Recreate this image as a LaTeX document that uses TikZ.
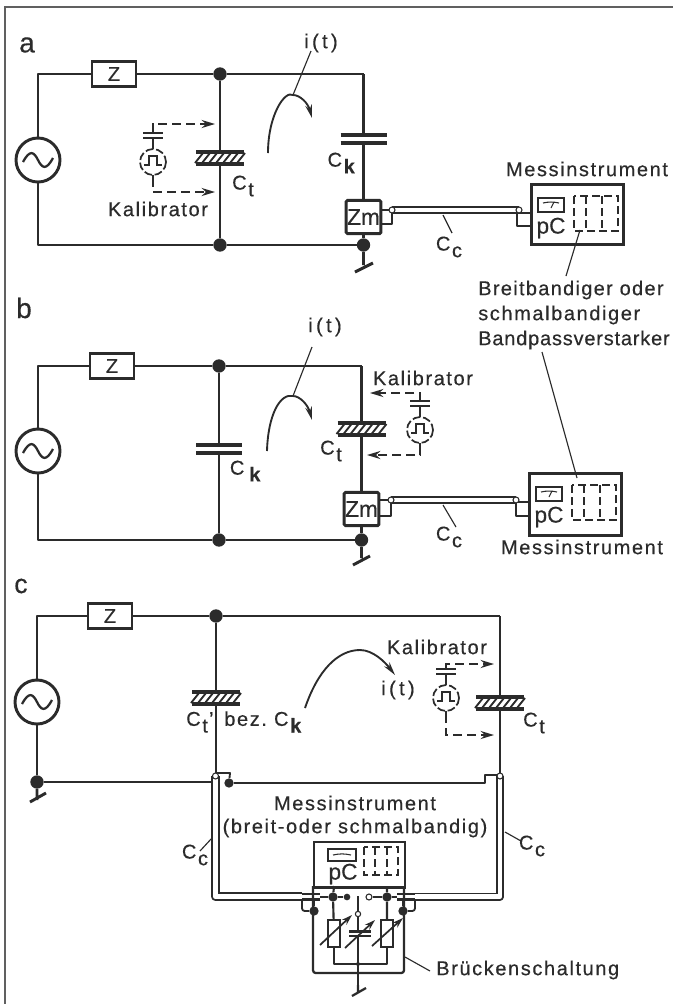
\documentclass[tikz,border=0pt]{standalone}
\usepackage{fontspec}
\setmainfont[LetterSpace=8,FakeBold=0.35]{Liberation Sans}
\usetikzlibrary{arrows.meta,calc}
\definecolor{ink}{HTML}{2B2B2B}
\newcommand{\Sb}[1]{\kern1.2pt\raisebox{-5pt}{#1}}
\tikzset{
 wire/.style={draw=ink,line width=2.2pt,line join=round},
 thinw/.style={draw=ink,line width=1.4pt,line join=round},
 lead/.style={draw=ink,line width=0.85pt},
 dashw/.style={draw=ink,line width=1.4pt,dash pattern=on 7pt off 3.5pt,-{Stealth[length=10pt,width=6pt]}},
 curr/.style={draw=ink,line width=1.4pt,-{Stealth[length=10pt,width=5pt]}},
 lab/.style={text=ink,inner sep=0pt,font=\fontsize{15}{15}\selectfont},
 biglab/.style={text=ink,inner sep=0pt,font=\fontsize{21}{21}\selectfont},
 dot/.style={circle,fill=ink,draw=none,minimum size=10pt,inner sep=0pt},
 smalldot/.style={circle,fill=ink,draw=none,minimum size=7pt,inner sep=0pt},
 opendot/.style={circle,fill=white,draw=ink,line width=0.8pt,minimum size=4.5pt,inner sep=0pt},
 zbox/.style={draw=ink,line width=2.2pt,fill=white,minimum width=33pt,minimum height=19pt,inner sep=0pt,text=ink,font=\fontsize{15}{15}\selectfont},
 zmbox/.style={draw=ink,line width=2.2pt,fill=white,rounded corners=1pt,minimum width=26pt,minimum height=25pt,inner sep=0pt,text=ink,font=\fontsize{17}{17}\selectfont\addfontfeature{LetterSpace=0}},
 srcnode/.style={circle,draw=ink,line width=2.2pt,fill=white,minimum size=33pt,inner sep=0pt},
 cable/.style={draw=ink,line width=1.2pt,double=white,double distance=3.6pt,line join=round},
 pclab/.style={text=ink,inner sep=0pt,font=\fontsize{17}{17}\selectfont\addfontfeature{LetterSpace=0}},
 hatchcap/.pic={
  \coordinate (-top) at (0,-6); \coordinate (-bot) at (0,6);
  \foreach \i in {-22,-15,...,20}{\draw[ink,line width=1.4pt] (\i-3,5) -- (\i+5,-5);}
  \draw[ink,line width=2.6pt] (-24,-6) -- (24,-6) (-24,6) -- (24,6);
 },
 platecap/.pic={
  \coordinate (-top) at (0,-4); \coordinate (-bot) at (0,4);
  \draw[ink,line width=2.6pt] (-23,-4) -- (23,-4) (-23,4) -- (23,4);
 },
 calib/.pic={
  \coordinate (-top) at (0,-29); \coordinate (-bot) at (0,16);
  \draw[ink,line width=1.3pt,dash pattern=on 6pt off 2pt] (0,0) circle (13);
  \draw[ink,line width=1.3pt] (-9,3) -- (-4,3) -- (-4,-6) -- (4,-6) -- (4,3) -- (9,3);
  \draw[ink,line width=1.8pt] (-10,-29) -- (10,-29) (-10,-24) -- (10,-24);
  \draw[ink,line width=1.3pt] (0,-24) -- (0,-13) (0,13) -- (0,16);
 },
 panel/.pic={
  \draw[ink,line width=1.8pt] (8,15) rectangle (34,29);
  \draw[ink,line width=.8pt] (13,20) to[bend left=12] (29,20) (21,25) -- (24,19);
  \draw[ink,line width=1.4pt,dash pattern=on 6pt off 3pt] (44,13) rectangle (88,48) (56,13) -- (56,48) (72,13) -- (72,48);
  \node[pclab] at (21,45) {pC};
 },
}
\newcommand{\sinewave}[1]{\draw[ink,line width=1.7pt] ($(#1.center)+(-15,2)$) .. controls ($(#1.center)+(-8,-11)$) and ($(#1.center)+(-4,-8)$) .. (#1.center) .. controls ($(#1.center)+(4,8)$) and ($(#1.center)+(8,11)$) .. ($(#1.center)+(15,-2)$);}
\begin{document}
\begin{tikzpicture}[x=0.75pt,y=-0.75pt]
\useasboundingbox (0,0) rectangle (673,1008);
\fill[white] (0,0) rectangle (673,1008);
\coordinate (fa) at (673,7); \coordinate (fb) at (5,7); \coordinate (fc) at (5,1004);
\draw[draw=ink!75,line width=1pt] (fa) -- (fb) -- (fc);
% ---------- a
\node[biglab] (la) at (27,45) {a};
\node[srcnode] (sa) at (38,160) {}; \sinewave{sa}
\node[zbox] (za) at (114,74) {Z};
\node[dot] (na1) at (220,74) {};
\node[dot] (na2) at (220,245) {};
\node[dot] (na3) at (363.5,245) {};
\coordinate (tla) at (38,74); \coordinate (bla) at (38,245); \coordinate (tra) at (363.5,74);
\node[zmbox] (zma) at (363.5,217) {Zm};
\draw[wire] (sa) -- (tla) -- (za) -- (na1) -- (tra);
\draw[wire] (sa) -- (bla) -- (na2) -- (na3);
\pic (cta) at (220,158) {hatchcap};
\draw[wire] (na1) -- (cta-top) (cta-bot) -- (na2);
\pic (cka) at (363.5,139) {platecap};
\draw[wire] (tra) -- (cka-top) (cka-bot) -- (zma.north);
\draw[wire] (zma) -- (na3);
\coordinate (gaa) at (363.5,265); \coordinate (ga1) at (355,272); \coordinate (ga2) at (373,263);
\draw[wire] (na3) -- (gaa) (ga1) -- (ga2);
\pic (caa) at (153,162) {calib};
\coordinate (ta1) at (215,124); \coordinate (ta2) at (215,192);
\draw[dashw] (caa-top) |- (ta1);
\draw[dashw] (caa-bot) |- (ta2);
\node[lab] (kala) at (158,209) {Kalibrator};
\node[lab] (cla) at (243,186) {C\Sb{t}};
\node[lab] (clk) at (342,163) {C\Sb{\textbf{k}}};
\node[lab] (ita) at (321,43) {i\,(\,t\,)};
\coordinate (ia1) at (311,51); \coordinate (ia2) at (293,95);
\draw[lead] (ia1) -- (ia2);
\coordinate (ca0) at (268,153); \coordinate (ca1) at (312,118);
\draw[curr] (ca0) .. controls (268,115) and (285,90) .. (ia2) .. controls (300,95) and (308,103) .. (ca1);
\node[draw=ink,line width=2.2pt,minimum width=69pt,minimum height=45pt,inner sep=0pt,anchor=north west] (ia) at (530,183) {};
\pic at (530,183) {panel};
\coordinate (ac1) at (381,210); \coordinate (ac2) at (392,210); \coordinate (ac3) at (392,224); \coordinate (ac4) at (381,224);
\draw[thinw] (ac1) -- (ac2) -- (ac3) -- (ac4);
\coordinate (ad1) at (530,213); \coordinate (ad2) at (517,213); \coordinate (ad3) at (517,226); \coordinate (ad4) at (530,226);
\draw[thinw] (ad1) -- (ad2) -- (ad3) -- (ad4);
\coordinate (ae2) at (519,210);
\draw[cable] (ac2) -- (ae2);
\node[opendot] at (ac2) {}; \node[opendot] at (ae2) {};
\node[lab] (cca) at (449,247) {C\Sb{c}};
\coordinate (cc1) at (443,215); \coordinate (cc2) at (452,233);
\draw[lead] (cc1) -- (cc2);
\node[lab] (mia) at (587,169) {Messinstrument};
\node[lab,anchor=west] (br1) at (478,290) {\addfontfeature{LetterSpace=6.5}Breitbandiger oder};
\node[lab,anchor=west] (br2) at (478,315) {schmalbandiger};
\node[lab,anchor=west] (br3) at (478,340) {\addfontfeature{LetterSpace=4}Bandpassverstarker};
\coordinate (l1) at (580,230); \coordinate (l2) at (566,276);
\draw[lead] (l1) -- (l2);
\coordinate (l3) at (542,352); \coordinate (l4) at (577,478);
\draw[lead] (l3) -- (l4);
% ---------- b
\node[biglab] (lb) at (24,308) {b};
\node[srcnode] (sb) at (38,451) {}; \sinewave{sb}
\node[zbox] (zb) at (112,366) {Z};
\node[dot] (nb1) at (219,366) {};
\node[dot] (nb2) at (219,540) {};
\node[dot] (nb3) at (361.5,540) {};
\coordinate (tlb) at (38,366); \coordinate (blb) at (38,540); \coordinate (trb) at (361.5,366);
\node[zmbox] (zmb) at (361.5,509) {Zm};
\draw[wire] (sb) -- (tlb) -- (zb) -- (nb1) -- (trb);
\draw[wire] (sb) -- (blb) -- (nb2) -- (nb3);
\pic (ckb) at (219,449) {platecap};
\draw[wire] (nb1) -- (ckb-top) (ckb-bot) -- (nb2);
\pic (ctb) at (361.5,429) {hatchcap};
\draw[wire] (trb) -- (ctb-top) (ctb-bot) -- (zmb.north);
\draw[wire] (zmb) -- (nb3);
\coordinate (gbb) at (361.5,558); \coordinate (gb1) at (353,565); \coordinate (gb2) at (370,556);
\draw[wire] (nb3) -- (gbb) (gb1) -- (gb2);
\pic (cab) at (420,430) {calib};
\coordinate (tb1) at (370,393); \coordinate (tb2) at (367,455);
\draw[dashw] (cab-top) |- (tb1);
\draw[dashw] (cab-bot) |- (tb2);
\node[lab] (kalb) at (423,378) {Kalibrator};
\node[lab] (clb) at (331,451) {C\Sb{t}};
\node[lab] (ckl) at (246,471) {C\,\Sb{\textbf{k}}};
\node[lab] (itb) at (325,327) {i\,(\,t\,)};
\coordinate (ib1) at (312,347); \coordinate (ib2) at (293,396);
\draw[lead] (ib1) -- (ib2);
\coordinate (cb0) at (267,451); \coordinate (cb1) at (312,420);
\draw[curr] (cb0) .. controls (268,415) and (280,393) .. (ib2) .. controls (300,396) and (308,405) .. (cb1);
\node[draw=ink,line width=2.2pt,minimum width=69pt,minimum height=46.5pt,inner sep=0pt,anchor=north west] (ib) at (528,472) {};
\pic at (528,472) {panel};
\coordinate (bc1) at (379,500); \coordinate (bc2) at (391,500); \coordinate (bc3) at (391,516); \coordinate (bc4) at (379,516);
\draw[thinw] (bc1) -- (bc2) -- (bc3) -- (bc4);
\coordinate (bd1) at (528,502); \coordinate (bd2) at (516,502); \coordinate (bd3) at (516,516); \coordinate (bd4) at (528,516);
\draw[thinw] (bd1) -- (bd2) -- (bd3) -- (bd4);
\coordinate (be2) at (516,500);
\draw[cable] (bc2) -- (be2);
\node[opendot] at (bc2) {}; \node[opendot] at (be2) {};
\node[lab] (ccb) at (449,537) {C\Sb{c}};
\coordinate (cd1) at (443,505); \coordinate (cd2) at (456,527);
\draw[lead] (cd1) -- (cd2);
\node[lab] (mib) at (582,547) {Messinstrument};
% ---------- c
\node[biglab,font=\fontsize{20}{20}\selectfont] (lc) at (21,586) {c};
\node[srcnode] (sc) at (37,702) {}; \sinewave{sc}
\node[zbox] (zc) at (110,616) {Z};
\node[dot] (nc1) at (216,616) {};
\node[dot] (nc2) at (37,782) {};
\coordinate (tlc) at (37,616); \coordinate (trc) at (500,616);
\draw[wire] (sc) -- (tlc) -- (zc) -- (nc1) -- (trc);
\draw[wire] (sc) -- (nc2);
\coordinate (gcc) at (37,800); \coordinate (gc1) at (30,802); \coordinate (gc2) at (46,793);
\draw[wire] (nc2) -- (gcc) (gc1) -- (gc2);
\pic (ctc1) at (216,698) {hatchcap};
\pic (ctc2) at (500,703) {hatchcap};
\coordinate (chl) at (216,773); \coordinate (chr) at (500,773);
\draw[wire] (nc1) -- (ctc1-top) (ctc1-bot) -- (chl);
\draw[wire] (trc) -- (ctc2-top) (ctc2-bot) -- (chr);
\pic (cac) at (446,698) {calib};
\coordinate (tc1) at (494,664); \coordinate (tc2) at (494,735);
\draw[dashw] (cac-top) |- (tc1);
\draw[dashw] (cac-bot) |- (tc2);
\node[lab] (kalc) at (437,647) {Kalibrator};
\node[lab] (itc) at (398,690) {i\,(\,t\,)};
\coordinate (cc0) at (305,708); \coordinate (ccm) at (360,650); \coordinate (ccz) at (395,675);
\draw[curr] (cc0) .. controls (318,670) and (338,650) .. (ccm) .. controls (373,650) and (385,662) .. (ccz);
\node[lab,anchor=west] (cb) at (186,722) {C\Sb{t}\kern1pt'\kern8pt bez.\ C\Sb{\textbf{k}}};
\node[lab] (ctr) at (534,723) {C\Sb{t}};
\node[dot,minimum size=7pt] (nc3) at (229,783) {};
\coordinate (wl) at (212,782);
\draw[wire] (nc2) -- (wl);
\coordinate (b1) at (216,773); \coordinate (b2) at (230,773);
\draw[thinw] (b1) -- (b2) -- (nc3);
\coordinate (wr1) at (485,783); \coordinate (wr2) at (485,775); \coordinate (wr3) at (499,775);
\draw[wire] (nc3) -- (wr1) -- (wr2) -- (wr3);
\coordinate (cl1) at (215.5,776); \coordinate (cl2) at (215.5,896.5); \coordinate (cl3) at (302,896.5);
\coordinate (cr1) at (500,776); \coordinate (cr2) at (500,896.5); \coordinate (cr3) at (415,896.5);
\draw[cable,double distance=4.2pt] (cl1) -- (cl2) -- (cl3);
\draw[cable,double distance=3.6pt] (cr1) -- (cr2) -- (cr3);
\node[opendot] at (cl1) {}; \node[opendot] at (cr1) {};
\node[lab] (mic) at (355,803) {Messinstrument};
\node[lab] (mid) at (355,828) {(breit-oder schmalbandig)};
\node[lab] (ccl) at (195,855) {C\Sb{c}};
\coordinate (e1) at (212,838); \coordinate (e2) at (200,851);
\draw[lead] (e1) -- (e2);
\node[lab] (ccr) at (532,846) {C\Sb{c}};
\coordinate (e3) at (505,832); \coordinate (e4) at (521,841);
\draw[lead] (e3) -- (e4);
% instrument c
\node[draw=ink,line width=1.8pt,minimum width=68pt,minimum height=34pt,inner sep=0pt,anchor=north west] (ic) at (313,841) {};
\draw[ink,line width=1.6pt] (328,849) rectangle (356,861);
\draw[ink,line width=.8pt] (333,855) to[bend left=12] (351,855);
\draw[ink,line width=1.3pt,dash pattern=on 6pt off 3pt] (364,847) rectangle (398,875) (375,847) -- (375,875) (387,847) -- (387,875);
\node[pclab] (pcc) at (343,874) {pC};
% bridge
\coordinate (ol) at (313,886); \coordinate (ob1) at (313,973); \coordinate (ob2) at (404,973); \coordinate (or) at (404,886);
\draw[wire,line width=1.7pt,rounded corners=2pt] (ol) -- (ob1) -- (ob2) -- (or);
\node[smalldot] (d1) at (333,897) {}; \node[smalldot] (d2) at (387,897) {};
\node[smalldot,minimum size=5pt] (sw1) at (347,897) {}; \node[opendot] (sw2) at (369,897) {};
\node[smalldot] (d3) at (314,911) {}; \node[smalldot] (d4) at (403,911) {};
\draw[wire,line width=1.8pt] (320,897) -- (d1) -- (sw1);
\draw[wire,line width=1.8pt] (sw2) -- (d2) -- (397,897);
\draw[ink,line width=1.8pt] (302,894) -- (320,894) (302,899.5) -- (320,899.5) (397,894) -- (415,894) (397,899.5) -- (415,899.5);
\draw[thinw,rounded corners=2pt] (302,899) -- (302,911) -- (d3);
\draw[thinw,rounded corners=2pt] (415,899) -- (415,911) -- (d4);
\draw[thinw] (314,899) -- (d3) (403,899) -- (d4);
\node[draw=ink,line width=1.5pt,fill=white,minimum width=9pt,minimum height=20pt,inner sep=0pt] (r1) at (334,933.5) {};
\node[draw=ink,line width=1.5pt,fill=white,minimum width=9pt,minimum height=20pt,inner sep=0pt] (r2) at (387,933.5) {};
\draw[wire,line width=1.6pt] (334,886) -- (d1) -- (r1) (387,886) -- (d2) -- (r2);
\coordinate (jl) at (334,964); \coordinate (jr) at (387,964);
\node[smalldot,minimum size=3pt] (jm) at (358,964) {};
\draw[wire,line width=1.6pt] (r1) -- (jl) -- (jr) -- (r2);
\node[opendot,minimum size=4pt] (pv) at (358,914) {};
\coordinate (swt) at (358,896); \coordinate (gm) at (358,985);
\draw[thinw] (swt) -- (pv) -- (358,931);
\draw[thinw] (358,936) -- (gm);
\draw[ink,line width=1.7pt] (349,931.5) -- (371,931.5) (349,936) -- (371,936);
\coordinate (g3) at (352,996); \coordinate (g4) at (366,988);
\draw[thinw,line width=1.7pt] (gm) -- (358,993) (g3) -- (g4);
\draw[ink,line width=1.3pt,-{Stealth[length=8pt,width=5pt]}] (320,945) -- (352,915);
\draw[ink,line width=1.3pt,-{Stealth[length=8pt,width=5pt]}] (345,948) -- (375,920);
\draw[ink,line width=1.3pt,-{Stealth[length=8pt,width=5pt]}] (372,946) -- (403,918);
\node[lab,anchor=west] (bs) at (436,970) {Brückenschaltung};
\coordinate (bl1) at (405,957); \coordinate (bl2) at (430,971);
\draw[lead] (bl1) -- (bl2);
\end{tikzpicture}
\end{document}
